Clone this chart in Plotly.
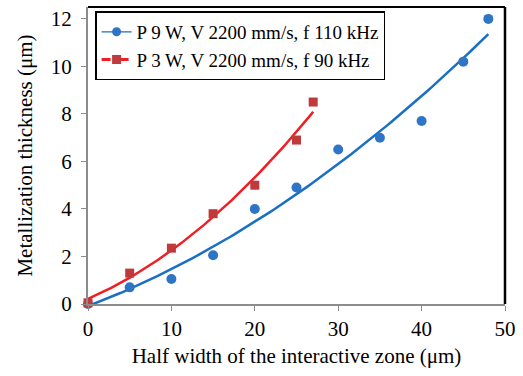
import numpy as np
import plotly.graph_objects as go

# Data
x_blue = [0, 5, 10, 15, 20, 25, 30, 35, 40, 45, 48]
y_blue = [0.0, 0.7, 1.05, 2.05, 4.0, 4.9, 6.5, 7.0, 7.7, 10.2, 12.0]
x_red = [0, 5, 10, 15, 20, 25, 27]
y_red = [0.05, 1.3, 2.35, 3.8, 5.0, 6.9, 8.5]
label_blue = "P 9 W, V 2200 mm/s, f 110 kHz"
label_red = "P 3 W, V 2200 mm/s, f 90 kHz"
x_ticks = [0, 10, 20, 30, 40, 50]
y_ticks = [0, 2, 4, 6, 8, 10, 12]

BLUE_M = "#2E75C6"
BLUE_L = "#1A6FC4"
RED_M = "#C0393B"
RED_L = "#F01E23"
FONT = "Liberation Serif, Times New Roman, serif"

# polynomial (order 2) trendlines
cb = np.polyfit(x_blue, y_blue, 2)
cr = np.polyfit(x_red, y_red, 2)
xb = np.linspace(min(x_blue), max(x_blue), 100)
xr = np.linspace(min(x_red), max(x_red), 100)

fig = go.Figure()
fig.add_trace(go.Scatter(x=xb, y=np.polyval(cb, xb), mode="lines",
                         line=dict(color=BLUE_L, width=2.5), showlegend=False))
fig.add_trace(go.Scatter(x=xr, y=np.polyval(cr, xr), mode="lines",
                         line=dict(color=RED_L, width=2.5), showlegend=False))
fig.add_trace(go.Scatter(x=x_blue, y=y_blue, mode="markers",
                         marker=dict(color=BLUE_M, size=10, symbol="circle"),
                         showlegend=False, cliponaxis=False))
fig.add_trace(go.Scatter(x=x_red, y=y_red, mode="markers",
                         marker=dict(color=RED_M, size=9, symbol="square"),
                         showlegend=False, cliponaxis=False))
# legend entries
fig.add_trace(go.Scatter(x=[None], y=[None], mode="lines+markers", name=label_blue,
                         line=dict(color=BLUE_L, width=1.2),
                         marker=dict(color=BLUE_M, size=9, symbol="circle")))
fig.add_trace(go.Scatter(x=[None], y=[None], mode="lines+markers", name=label_red,
                         line=dict(color=RED_L, width=3, dash="dash"),
                         marker=dict(color=RED_M, size=9, symbol="square")))

fig.update_layout(
    width=523, height=376,
    margin=dict(l=88, r=15, t=7, b=72),
    paper_bgcolor="white", plot_bgcolor="white",
    font=dict(family=FONT, size=21, color="black"),
    legend=dict(x=0.017, y=0.985, xanchor="left", yanchor="top",
                bordercolor="black", borderwidth=1.5, bgcolor="white",
                font=dict(size=19), tracegroupgap=0, itemwidth=30),
    xaxis=dict(range=[0, 50], tickvals=x_ticks, showgrid=False, zeroline=False,
               showline=True, linecolor="#8C8C8C", linewidth=2,
               ticks="outside", ticklen=5, tickcolor="#8C8C8C", tickwidth=1,
               tickfont=dict(size=21),
               title=dict(text="Half width of the interactive zone (μm)", font=dict(size=21), standoff=8)),
    yaxis=dict(range=[0, 12.5], tickvals=y_ticks, showgrid=False, zeroline=False,
               showline=True, linecolor="#8C8C8C", linewidth=2,
               ticks="outside", ticklen=5, tickcolor="#8C8C8C", tickwidth=1,
               tickfont=dict(size=21), ticklabelstandoff=5,
               title=dict(text="Metallization thickness (μm)", font=dict(size=21), standoff=12)),
)
# top and right plot border (black)
fig.add_shape(type="line", xref="x domain", yref="y domain", x0=0, x1=1, y0=1, y1=1,
              line=dict(color="black", width=2))
fig.add_shape(type="line", xref="x domain", yref="y domain", x0=1, x1=1, y0=0, y1=1,
              line=dict(color="black", width=2.5))

fig.write_html("out.html")
